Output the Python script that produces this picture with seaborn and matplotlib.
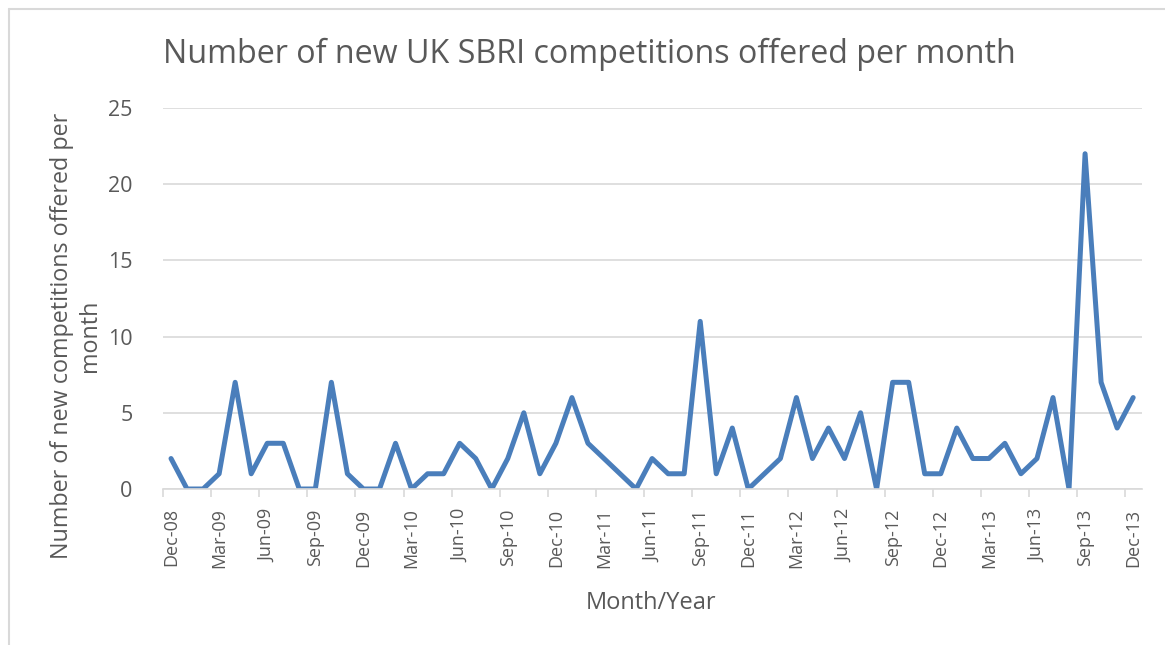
import matplotlib
matplotlib.use("Agg")
import matplotlib.pyplot as plt
from matplotlib.lines import Line2D
import seaborn as sns
import pandas as pd
import numpy as np

# ---- data ----
months = pd.date_range("2008-12-01", periods=61, freq="MS").strftime("%b-%y").tolist()
competitions = [2, 0, 0, 1, 7, 1, 3, 3, 0, 0, 7, 1, 0, 0, 3, 0, 1, 1, 3, 2,
                0, 2, 5, 1, 3, 6, 3, 2, 1, 0, 2, 1, 1, 11, 1, 4, 0, 1, 2, 6,
                2, 4, 2, 5, 0, 7, 7, 1, 1, 4, 2, 2, 3, 1, 2, 6, 0, 22, 7, 4, 6]
tick_labels = ["Dec-08", "Mar-09", "Jun-09", "Sep-09", "Dec-09", "Mar-10", "Jun-10",
               "Sep-10", "Dec-10", "Mar-11", "Jun-11", "Sep-11", "Dec-11", "Mar-12",
               "Jun-12", "Sep-12", "Dec-12", "Mar-13", "Jun-13", "Sep-13", "Dec-13"]
y_ticks = [0, 5, 10, 15, 20, 25]

title = "Number of new UK SBRI competitions offered per month"
ylabel = "Number of new competitions offered per\nmonth"
xlabel = "Month/Year"

df = pd.DataFrame({"idx": np.arange(len(months)), "month": months, "value": competitions})

sns.set_theme(style="white")
plt.rcParams["font.family"] = ["Open Sans", "DejaVu Sans"]

TXT = "#595959"
fig = plt.figure(figsize=(11.65, 6.45), dpi=100)
ax = fig.add_axes([163 / 1165, 156 / 645, (1142 - 163) / 1165, (489 - 108) / 645])

sns.lineplot(data=df, x="idx", y="value", ax=ax, color="#4A7EBB", linewidth=3.6)

ax.set_xlim(-0.45, 60.55)
ax.set_ylim(0, 25)
ax.set_yticks(y_ticks)
ax.set_yticklabels([str(v) for v in y_ticks], fontsize=15.5, color=TXT)
ax.yaxis.grid(True, color="#D9D9D9", linewidth=1.2)
ax.tick_params(axis="y", length=0, pad=22)

tick_pos = [months.index(t) for t in tick_labels]
ax.set_xticks(tick_pos)
ax.set_xticklabels(tick_labels, rotation=90, fontsize=13, color=TXT)
ax.set_xticks([p - 0.5 for p in tick_pos], minor=True)
ax.tick_params(axis="x", which="major", length=0, pad=14)
ax.tick_params(axis="x", which="minor", length=6, color="#D9D9D9", width=1.2, bottom=True)

for s in ["top", "right", "left"]:
    ax.spines[s].set_visible(False)
ax.spines["bottom"].set_color("#D9D9D9")
ax.spines["bottom"].set_linewidth(1.2)

ax.set_xlabel("")
ax.set_ylabel("")
fig.text(651 / 1165, 1 - 603 / 645, xlabel, fontsize=17, color=TXT, ha="center", va="center")
fig.text(76 / 1165, 1 - 336 / 645, ylabel, fontsize=16.8, color=TXT, ha="center", va="center",
         rotation=90, multialignment="center", linespacing=1.2)
fig.text(163 / 1165, 1 - 54 / 645, title, fontsize=23.2, color=TXT, ha="left", va="center")

# chart frame (left and top edges)
fig.add_artist(Line2D([9 / 1165, 9 / 1165], [0, 1 - 9 / 645], transform=fig.transFigure,
                      color="#D9D9D9", linewidth=1.5))
fig.add_artist(Line2D([9 / 1165, 1], [1 - 9 / 645, 1 - 9 / 645], transform=fig.transFigure,
                      color="#D9D9D9", linewidth=1.5))

fig.savefig("out.png", dpi=100, facecolor="white")
